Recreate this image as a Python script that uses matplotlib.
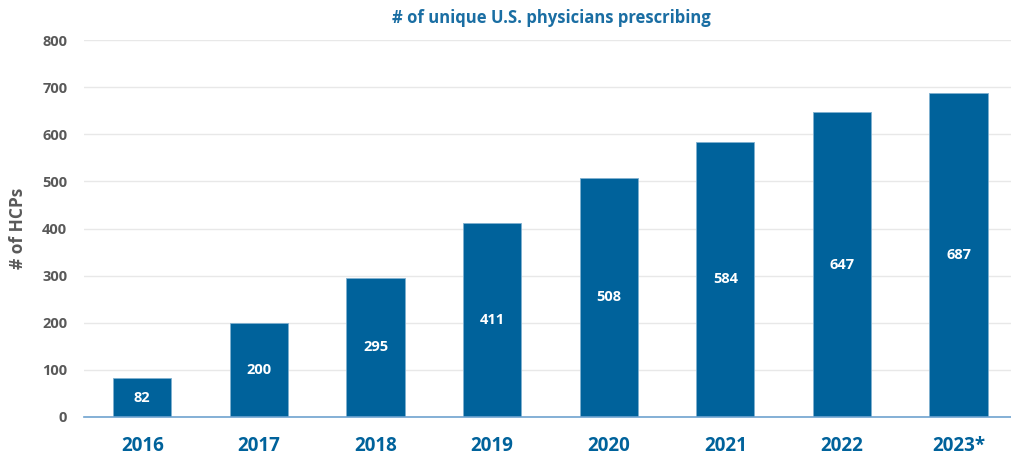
import matplotlib
matplotlib.use("Agg")
import matplotlib.pyplot as plt

years = ["2016", "2017", "2018", "2019", "2020", "2021", "2022", "2023*"]
hcps = [82, 200, 295, 411, 508, 584, 647, 687]
yticks = [0, 100, 200, 300, 400, 500, 600, 700, 800]

blue = "#00629b"
grey = "#595959"
plt.rcParams['font.family'] = ['Open Sans', 'DejaVu Sans']

fig = plt.figure(figsize=(10.11, 4.62), dpi=100)
ax = fig.add_axes([84/1011, 1 - 417/462, 1 - 84/1011, (417 - 40)/462])

x = range(len(years))
bars = ax.bar(x, hcps, width=0.5, color=blue, edgecolor="#7fb0d0", linewidth=0.6, zorder=3)
for b, v in zip(bars, hcps):
    ax.text(b.get_x() + b.get_width()/2, v/2, str(v), ha="center", va="center",
            color="white", fontsize=10.5, fontweight="bold", zorder=4)

ax.set_xlim(-0.5, 7.45)
ax.set_ylim(0, 800)
ax.set_yticks(yticks)
ax.set_yticklabels([str(t) for t in yticks], color=grey, fontsize=10.5, fontweight="bold")
ax.set_xticks(list(x))
ax.set_xticklabels(years, color=blue, fontsize=13.5, fontweight="bold")
ax.tick_params(axis="both", length=0)
ax.tick_params(axis="x", pad=14)
ax.tick_params(axis="y", pad=12)
ax.grid(axis="y", color="#e8e8e8", linewidth=1, zorder=0)
for s in ["top", "right", "left"]:
    ax.spines[s].set_visible(False)
ax.spines["bottom"].set_color("#6fa3cf")
ax.spines["bottom"].set_linewidth(1.2)
ax.spines["bottom"].set_zorder(5)

ax.set_ylabel("# of HCPs", color=grey, fontsize=12.5, fontweight="bold")
ax.yaxis.set_label_coords(-0.062, 0.5)
fig.text(0.545, 1 - 18/462, "# of unique U.S. physicians prescribing", ha="center", va="center",
         color="#1a6ea3", fontsize=12, fontweight="bold")

fig.savefig("out.png", dpi=100)
